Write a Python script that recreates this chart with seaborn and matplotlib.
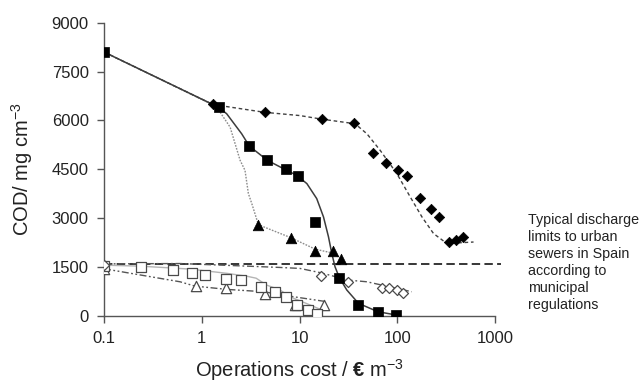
import numpy as np
import pandas as pd
import seaborn as sns
import matplotlib
matplotlib.use("Agg")
import matplotlib.pyplot as plt
from matplotlib.ticker import FixedLocator, NullLocator, FixedFormatter

# ---------------- data ----------------
# filled squares (solid curve)
sq_x = [0.1, 1.5, 3.07, 4.7, 7.2, 9.6, 14.4, 25.6, 40, 63, 98]
sq_y = [8100, 6400, 5220, 4790, 4500, 4300, 2890, 1170, 350, 130, 30]
sq_fit_x = [0.1, 1.5, 1.8, 2.56, 3.07, 4.7, 7.18, 9.38, 11.9, 15.0, 17.6, 19.8,
            21.4, 23.1, 25.6, 30.5, 40.1, 63.3, 97.5]
sq_fit_y = [8100, 6400, 6205, 5592, 5213, 4775, 4490, 4316, 4062, 3603, 3040, 2427,
            1919, 1509, 1172, 796, 389, 132, 31]

# filled diamonds (short-dashed curve)
dm_x = [1.3, 4.4, 16.9, 36, 56, 76, 101, 125, 171, 220, 270, 342, 401, 469]
dm_y = [6490, 6260, 6030, 5930, 4990, 4680, 4480, 4300, 3610, 3290, 3040, 2270, 2320, 2430]
dm_fit_x = [0.1, 1.3, 4.4, 10.1, 16.9, 37, 49, 67, 99, 136, 179, 235, 322, 603]
dm_fit_y = [8100, 6490, 6250, 6150, 6040, 5900, 5590, 5080, 4370, 3650, 3040, 2530, 2225, 2270]

# filled triangles (light dotted curve)
tr_x = [3.8, 8.2, 14.5, 21.9, 26.7]
tr_y = [2780, 2400, 2000, 1990, 1750]
tr_fit_x = [0.1, 1.3, 1.54, 1.95, 2.47, 2.77, 3.0, 3.25, 3.8, 8.2, 14.5, 22, 27]
tr_fit_y = [8100, 6480, 6254, 5795, 4775, 4469, 3756, 3450, 2800, 2400, 2050, 1930, 1745]

# open squares (light solid curve)
osq_x = [0.1, 0.237, 0.51, 0.79, 1.08, 1.76, 2.5, 4.0, 5.6, 7.3, 9.5, 12.2, 15]
osq_y = [1520, 1500, 1400, 1320, 1270, 1140, 1090, 880, 730, 580, 330, 170, 60]
osq_fit_x = [0.1, 0.233, 0.76, 1.8, 2.9, 3.6, 4.6, 6.3, 8.0, 12.8, 16.3]
osq_fit_y = [1560, 1530, 1440, 1310, 1220, 1160, 950, 800, 590, 340, 205]

# open triangles (dash-dot-dot curve)
otr_x = [0.1, 0.87, 1.75, 4.4, 8.9, 17.8]
otr_y = [1450, 920, 865, 680, 350, 340]
otr_fit_x = [0.1, 0.6, 0.85, 1.8, 4.3, 8.7, 19.1]
otr_fit_y = [1450, 1050, 918, 817, 744, 591, 438]

# open diamonds (dash-dot curve)
od_x = [0.1, 16.5, 31.2, 69.5, 83, 99, 114]
od_y = [1550, 1230, 1050, 870, 850, 800, 710]
od_fit_x = [0.1, 0.6, 2.9, 6.3, 10.1, 16.3, 31.8, 49, 141]
od_fit_y = [1600, 1610, 1530, 1490, 1460, 1330, 1100, 1050, 744]

# discharge limit
limit_x = [0.1, 1150]
limit_y = [1600, 1600]

x_ticks = [0.1, 1, 10, 100, 1000]
x_tick_labels = ["0.1", "1", "10", "100", "1000"]
y_ticks = [0, 1500, 3000, 4500, 6000, 7500, 9000]

note = ("Typical discharge\nlimits to urban\nsewers in Spain\naccording to\n"
        "municipal\nregulations")

# ---------------- style ----------------
sns.set_theme(style="ticks")
plt.rcParams["font.family"] = ["Liberation Sans", "DejaVu Sans"]
plt.rcParams["mathtext.fontset"] = "custom"
plt.rcParams["mathtext.rm"] = "Liberation Sans"
plt.rcParams["mathtext.it"] = "Liberation Sans:italic"
plt.rcParams["mathtext.bf"] = "Liberation Sans:bold"

fig = plt.figure(figsize=(6.41, 3.82), dpi=100)
ax = fig.add_axes([104 / 641, 1 - 316 / 382, (495 - 104) / 641, (316 - 22.7) / 382])
ax.set_xscale("log")


def curve(xs, ys, **kw):
    df = pd.DataFrame({"x": xs, "y": ys})
    line_kw = dict(sort=False, estimator=None, ax=ax, legend=False)
    line_kw.update(kw)
    return sns.lineplot(data=df, x="x", y="y", **line_kw)


def points(xs, ys, **kw):
    df = pd.DataFrame({"x": xs, "y": ys})
    return sns.scatterplot(data=df, x="x", y="y", ax=ax, legend=False, **kw)


# curves
curve(limit_x, limit_y, color="black", linewidth=1.1, dashes=False, clip_on=False, zorder=2)
ax.lines[-1].set_dashes((5.5, 2.8))
curve(tr_fit_x, tr_fit_y, color="#8c8c8c", linewidth=1.0, zorder=2)
ax.lines[-1].set_dashes((1.2, 1.0))
curve(sq_fit_x, sq_fit_y, color="#3c3c3c", linewidth=1.1, zorder=2)
curve(dm_fit_x, dm_fit_y, color="#404040", linewidth=1.0, zorder=2)
ax.lines[-1].set_dashes((2.6, 2.0))
curve(osq_fit_x, osq_fit_y, color="#b4b4b4", linewidth=1.0, zorder=2)
curve(otr_fit_x, otr_fit_y, color="#555555", linewidth=1.0, zorder=2)
ax.lines[-1].set_dashes((5, 1.8, 1.3, 1.8, 1.3, 1.8))
curve(od_fit_x, od_fit_y, color="#555555", linewidth=1.0, zorder=2)
ax.lines[-1].set_dashes((5, 2, 1.3, 2))

# markers
points(otr_x, otr_y, marker="^", s=55, color="white", edgecolor="#4a4a4a", linewidth=0.9, zorder=3)
points(osq_x, osq_y, marker="s", s=50, color="white", edgecolor="#4a4a4a", linewidth=0.9, zorder=3)
points(od_x, od_y, marker="D", s=26, color="white", edgecolor="#4a4a4a", linewidth=0.9, zorder=3)
points(tr_x, tr_y, marker="^", s=58, color="black", edgecolor="black", linewidth=0.5, zorder=4)
points(dm_x, dm_y, marker="D", s=28, color="black", edgecolor="black", linewidth=0.5, zorder=4)
points(sq_x, sq_y, marker="s", s=52, color="black", edgecolor="black", linewidth=0.5, zorder=5)

# axes
ax.set_xlim(0.1, 1000)
ax.set_ylim(0, 9000)
ax.xaxis.set_major_locator(FixedLocator(x_ticks))
ax.xaxis.set_major_formatter(FixedFormatter(x_tick_labels))
ax.xaxis.set_minor_locator(NullLocator())
ax.set_yticks(y_ticks)
ax.set_yticklabels([str(v) for v in y_ticks])
sns.despine(ax=ax)
for side in ("left", "bottom"):
    ax.spines[side].set_color("#555555")
    ax.spines[side].set_linewidth(1.0)
ax.tick_params(axis="both", which="major", direction="out", length=5, width=1.0,
               color="#555555", labelsize=12, labelcolor="#222222", pad=6)
ax.set_xlabel("Operations cost / $\\mathbf{€}$ m$^{-3}$", fontsize=14.5, color="#222222", labelpad=8)
ax.set_ylabel("COD/ mg cm$^{-3}$", fontsize=14.5, color="#222222", labelpad=12)
ax.grid(False)
ax.set_facecolor("white")

fig.text(528 / 641, 1 - 213 / 382, note, fontsize=10.3, color="#222222",
         va="top", ha="left", linespacing=1.28)

fig.savefig("out.png", dpi=100, facecolor="white")
